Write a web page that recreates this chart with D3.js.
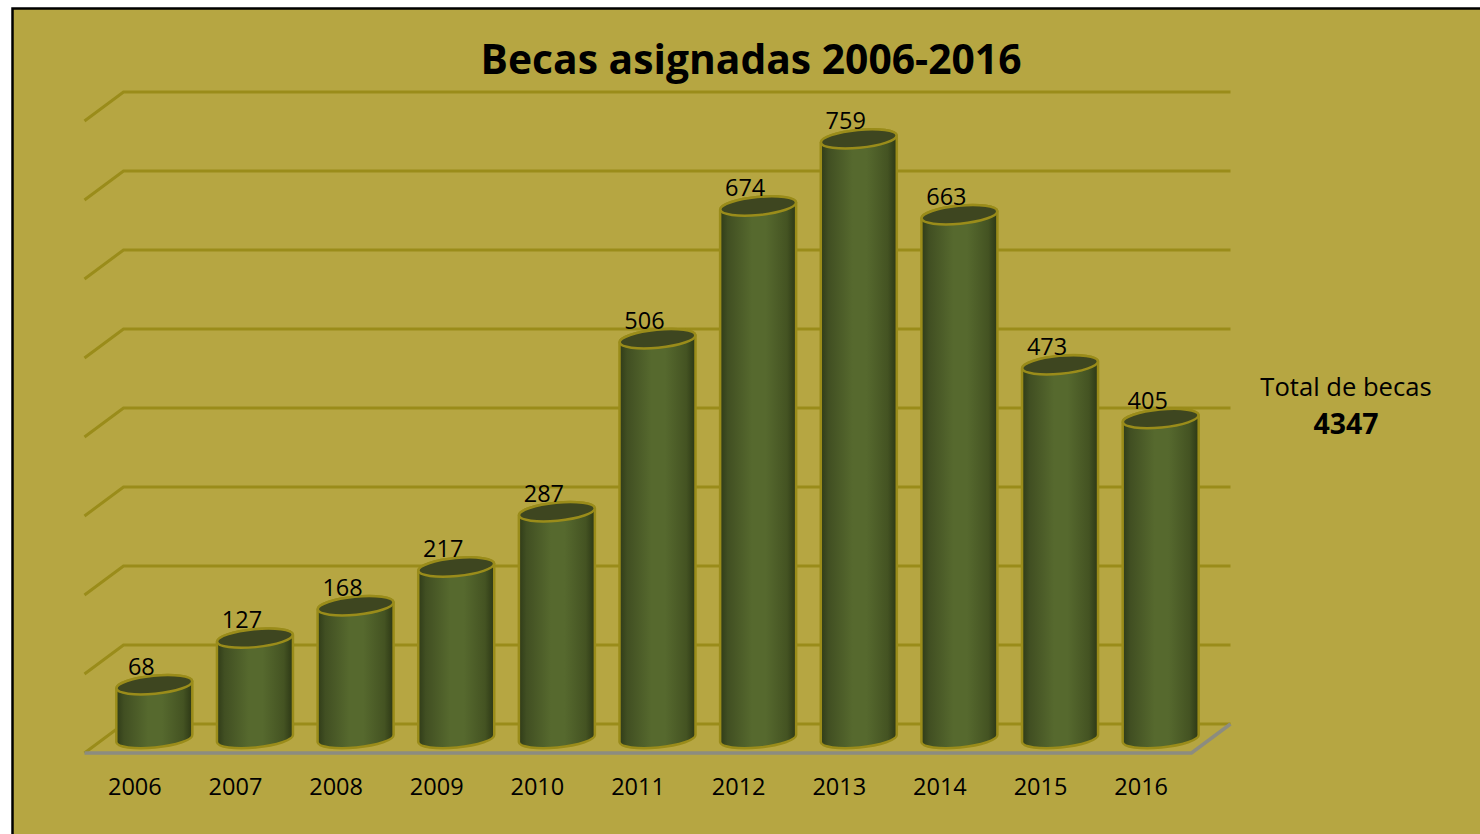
<!DOCTYPE html>
<html>
<head>
<meta charset="utf-8">
<script src="https://cdn.jsdelivr.net/npm/d3@7"></script>
<style>
  html, body { margin: 0; padding: 0; background: #fff; overflow: hidden; }
  text { font-family: "Open Sans", sans-serif; fill: #000; }
</style>
</head>
<body>
<div id="chart"></div>
<script>
// Becas asignadas por año
const years = ['2006', '2007', '2008', '2009', '2010', '2011', '2012', '2013', '2014', '2015', '2016'];
const becas = [68, 127, 168, 217, 287, 506, 674, 759, 663, 473, 405];
const totalLabel = 'Total de becas';
const totalValue = '4347';
const chartTitle = 'Becas asignadas 2006-2016';

const VIS_CONFIG = {
  width: 1480,
  height: 834,
  floorLeft: 84.5,
  floorRight: 1191.5,
  floorFront: 753,
  floorBack: 724,
  wallTop: 92,
  depthX: 39,
  depthY: 29,
  barRx: 38,
  barRy: 9,
  tilt: -5.5,
};

function initChart() {
  const c = VIS_CONFIG;
  const svg = d3.select('#chart')
    .append('svg')
    .attr('width', c.width)
    .attr('height', c.height)
    .style('display', 'block');

  const defs = svg.append('defs');
  const grad = defs.append('linearGradient').attr('id', 'cyl');
  grad.append('stop').attr('offset', '0%').attr('stop-color', '#2f3b18');
  grad.append('stop').attr('offset', '10%').attr('stop-color', '#414f22');
  grad.append('stop').attr('offset', '42%').attr('stop-color', '#56692e');
  grad.append('stop').attr('offset', '60%').attr('stop-color', '#56692e');
  grad.append('stop').attr('offset', '88%').attr('stop-color', '#445322');
  grad.append('stop').attr('offset', '100%').attr('stop-color', '#2c3715');

  // chart area with black frame, runs off the right and bottom of the page
  svg.append('rect')
    .attr('x', 12.5)
    .attr('y', 8.5)
    .attr('width', c.width)
    .attr('height', c.height)
    .attr('fill', '#b6a642')
    .attr('stroke', '#000')
    .attr('stroke-width', 2.5);

  const x = d3.scaleBand().domain(years).range([c.floorLeft, c.floorRight]);
  const y = d3.scaleLinear().domain([0, 800]).range([c.floorBack, c.wallTop]);

  // back wall lines and their side returns
  const grid = svg.append('g').attr('fill', 'none').attr('stroke', '#9a8c1a').attr('stroke-width', 3);
  y.ticks(8).forEach((t) => {
    grid.append('path')
      .attr('d', d3.line()([
        [c.floorLeft, y(t) + c.depthY],
        [c.floorLeft + c.depthX, y(t)],
        [c.floorRight + c.depthX, y(t)],
      ]));
  });

  // floor front and right edges
  svg.append('path')
    .attr('d', d3.line()([
      [c.floorLeft, c.floorFront],
      [c.floorRight, c.floorFront],
      [c.floorRight + c.depthX, c.floorBack],
    ]))
    .attr('fill', 'none')
    .attr('stroke', '#8c8c80')
    .attr('stroke-width', 3.5);

  const cx = (d) => x(d) + x.bandwidth() / 2 + c.depthX / 2;
  const midY = (v) => y(v) + c.depthY / 2;
  const lift = c.barRx * Math.sin(-c.tilt * Math.PI / 180);

  const bars = svg.append('g')
    .selectAll('g')
    .data(years.map((year, i) => ({ year, value: becas[i] })))
    .join('g');

  // cylinder body
  bars.append('path')
    .attr('d', (d) => {
      const l = cx(d.year) - c.barRx;
      const r = cx(d.year) + c.barRx;
      const top = midY(d.value);
      const base = midY(0);
      return `M${l},${top + lift}L${l},${base + lift}`
        + `A${c.barRx},${c.barRy} ${c.tilt} 0 0 ${r},${base - lift}`
        + `L${r},${top - lift}`
        + `A${c.barRx},${c.barRy} ${c.tilt} 0 0 ${l},${top + lift}Z`;
    })
    .attr('fill', 'url(#cyl)')
    .attr('stroke', '#9a8c1a')
    .attr('stroke-width', 2.5);

  // cylinder top
  bars.append('ellipse')
    .attr('rx', c.barRx)
    .attr('ry', c.barRy)
    .attr('transform', (d) => `translate(${cx(d.year)},${midY(d.value)}) rotate(${c.tilt})`)
    .attr('fill', '#3e4620')
    .attr('stroke', '#9a8c1a')
    .attr('stroke-width', 2.5);

  // value labels
  bars.append('text')
    .attr('x', (d) => cx(d.year) - 13)
    .attr('y', (d) => midY(d.value) - 10)
    .attr('text-anchor', 'middle')
    .attr('font-size', 23.5)
    .text((d) => d.value);

  // year axis
  const axis = svg.append('g')
    .attr('transform', `translate(0,${c.floorFront})`)
    .call(d3.axisBottom(x).tickSize(0).tickPadding(25));
  axis.select('.domain').remove();
  axis.selectAll('text')
    .attr('font-size', 23.5)
    .style('font-family', '"Open Sans", sans-serif')
    .attr('fill', '#000');

  svg.append('text')
    .attr('x', 751)
    .attr('y', 74)
    .attr('text-anchor', 'middle')
    .attr('font-size', 40.8)
    .attr('font-weight', 700)
    .text(chartTitle);

  svg.append('text')
    .attr('x', 1346)
    .attr('y', 396)
    .attr('text-anchor', 'middle')
    .attr('font-size', 25.6)
    .text(totalLabel);

  svg.append('text')
    .attr('x', 1346)
    .attr('y', 434)
    .attr('text-anchor', 'middle')
    .attr('font-size', 28.5)
    .attr('font-weight', 700)
    .text(totalValue);
}

initChart();
</script>
</body>
</html>
